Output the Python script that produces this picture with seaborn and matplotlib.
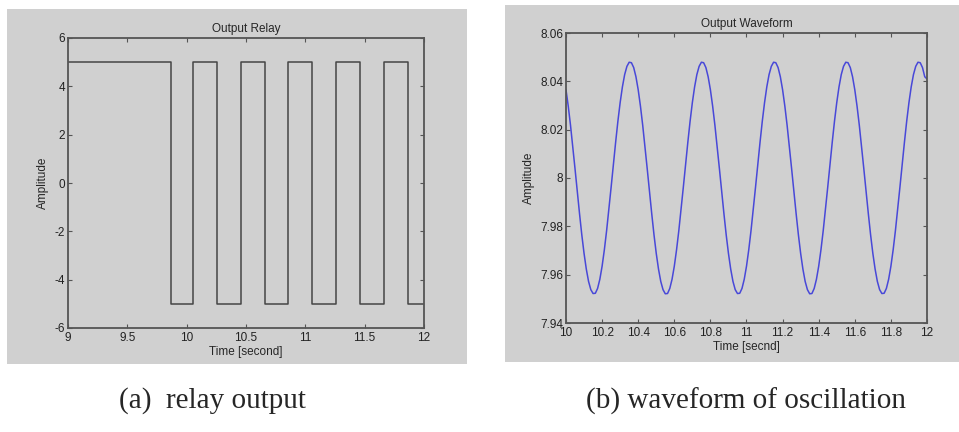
import numpy as np
import pandas as pd
import seaborn as sns
import matplotlib.pyplot as plt
from matplotlib.patches import Rectangle

# relay switching instants (s) and levels
relay_time = [9.0, 9.867, 10.052, 10.257, 10.457, 10.659, 10.858, 11.060,
              11.259, 11.461, 11.660, 11.865, 12.0]
relay_level = [5, -5, 5, -5, 5, -5, 5, -5, 5, -5, 5, -5, -5]

# oscillation, every 0.0125 s from 10 to 12
wave_time = [10 + 0.0125 * i for i in range(161)]
wave_amp = [
    # 10.0 - 10.4
    8.0365, 8.0297, 8.0218, 8.0130, 8.0038, 7.9944, 7.9852, 7.9765,
    7.9688, 7.9623, 7.9572, 7.9538, 7.9522, 7.9523, 7.9543, 7.9581,
    7.9635, 7.9703, 7.9782, 7.9870, 7.9962, 8.0056, 8.0148, 8.0235,
    8.0312, 8.0377, 8.0428, 8.0462, 8.0479, 8.0477, 8.0457, 8.0419,
    # 10.4 - 10.8
    8.0365, 8.0297, 8.0218, 8.0130, 8.0038, 7.9944, 7.9852, 7.9765,
    7.9688, 7.9623, 7.9572, 7.9538, 7.9521, 7.9522, 7.9543, 7.9581,
    7.9635, 7.9703, 7.9782, 7.9870, 7.9962, 8.0056, 8.0148, 8.0235,
    8.0312, 8.0377, 8.0428, 8.0462, 8.0479, 8.0477, 8.0457, 8.0419,
    # 10.8 - 11.2
    8.0365, 8.0297, 8.0218, 8.0130, 8.0038, 7.9944, 7.9852, 7.9765,
    7.9688, 7.9623, 7.9572, 7.9538, 7.9522, 7.9523, 7.9543, 7.9581,
    7.9635, 7.9703, 7.9782, 7.9870, 7.9962, 8.0056, 8.0148, 8.0235,
    8.0312, 8.0377, 8.0428, 8.0462, 8.0479, 8.0477, 8.0457, 8.0419,
    # 11.2 - 11.6
    8.0365, 8.0297, 8.0218, 8.0130, 8.0038, 7.9944, 7.9852, 7.9765,
    7.9688, 7.9623, 7.9572, 7.9538, 7.9521, 7.9522, 7.9543, 7.9581,
    7.9635, 7.9703, 7.9782, 7.9870, 7.9962, 8.0056, 8.0148, 8.0235,
    8.0312, 8.0377, 8.0428, 8.0462, 8.0479, 8.0477, 8.0457, 8.0419,
    # 11.6 - 12.0
    8.0365, 8.0297, 8.0218, 8.0130, 8.0038, 7.9944, 7.9852, 7.9765,
    7.9688, 7.9623, 7.9572, 7.9538, 7.9522, 7.9523, 7.9543, 7.9581,
    7.9635, 7.9703, 7.9782, 7.9870, 7.9962, 8.0056, 8.0148, 8.0235,
    8.0312, 8.0377, 8.0428, 8.0462, 8.0479, 8.0477, 8.0457, 8.0419,
    8.0410,
]

relay_xticks = [9, 9.5, 10, 10.5, 11, 11.5, 12]
relay_xlabels = ['9', '9.5', '10', '10.5', '11', '11.5', '12']
relay_yticks = [-6, -4, -2, 0, 2, 4, 6]
relay_ylabels = ['-6', '-4', '-2', '0', '2', '4', '6']

wave_xticks = [10, 10.2, 10.4, 10.6, 10.8, 11, 11.2, 11.4, 11.6, 11.8, 12]
wave_xlabels = ['10', '10.2', '10.4', '10.6', '10.8', '11', '11.2', '11.4',
                '11.6', '11.8', '12']
wave_yticks = [7.94, 7.96, 7.98, 8.0, 8.02, 8.04, 8.06]
wave_ylabels = ['7.94', '7.96', '7.98', '8', '8.02', '8.04', '8.06']

relay_df = pd.DataFrame({'time': relay_time, 'level': relay_level})
wave_df = pd.DataFrame({'time': wave_time, 'amp': wave_amp})

sns.set_style('ticks')
plt.rcParams['font.family'] = ['Liberation Sans', 'DejaVu Sans']

W, H = 959, 432
bg = '#d0d0d0'
edge = '#555555'

fig = plt.figure(figsize=(W / 100, H / 100), dpi=100)
fig.patch.set_facecolor('white')


def box(x0, y0, x1, y1):
    # pixel box (top-left origin) -> figure fraction
    return [x0 / W, 1 - y1 / H, (x1 - x0) / W, (y1 - y0) / H]


# matlab-style grey figure panels
for x0, y0, x1, y1 in [(7, 9, 467, 364), (505, 5, 959, 362)]:
    l, b, w, h = box(x0, y0, x1, y1)
    fig.patches.append(Rectangle((l, b), w, h, transform=fig.transFigure,
                                 facecolor=bg, edgecolor='none', zorder=-5))

ax1 = fig.add_axes(box(68, 38, 424, 328))
ax2 = fig.add_axes(box(566, 33, 927, 323))

sns.lineplot(data=relay_df, x='time', y='level', ax=ax1, color='#454545',
             linewidth=1.1, drawstyle='steps-post', estimator=None, sort=False)
sns.lineplot(data=wave_df, x='time', y='amp', ax=ax2, color='#4848d8',
             linewidth=1.1, estimator=None, sort=False)

ax1.set_xlim(9, 12)
ax1.set_ylim(-6, 6)
ax1.set_xticks(relay_xticks, relay_xlabels)
ax1.set_yticks(relay_yticks, relay_ylabels)
ax1.set_title('Output Relay', fontsize=8.5, pad=4)
ax1.set_xlabel('Time [second]', fontsize=8.5, labelpad=1)
ax1.set_ylabel('Amplitude', fontsize=8.5, labelpad=4)

ax2.set_xlim(10, 12)
ax2.set_ylim(7.94, 8.06)
ax2.set_xticks(wave_xticks, wave_xlabels)
ax2.set_yticks(wave_yticks, wave_ylabels)
ax2.set_title('Output Waveform', fontsize=8.5, pad=4)
ax2.set_xlabel('Time [secnd]', fontsize=8.5, labelpad=1)
ax2.set_ylabel('Amplitude', fontsize=8.5, labelpad=4)

for ax in (ax1, ax2):
    ax.set_zorder(2)
    ax.set_facecolor(bg)
    for s in ax.spines.values():
        s.set_visible(True)
        s.set_color(edge)
        s.set_linewidth(1.3)
    ax.tick_params(direction='in', top=True, right=True, length=3,
                   width=0.8, color=edge, labelsize=8.5, pad=2,
                   labelcolor='#222222')
    ax.tick_params(axis='x', pad=3)

fig.text(212 / W, 1 - 401 / H, '(a)  relay output', ha='center', va='center',
         fontsize=21, family=['Liberation Serif', 'DejaVu Serif'])
fig.text(746 / W, 1 - 401 / H, '(b) waveform of oscillation', ha='center',
         va='center', fontsize=21, family=['Liberation Serif', 'DejaVu Serif'])

fig.savefig('out.png', dpi=100)
